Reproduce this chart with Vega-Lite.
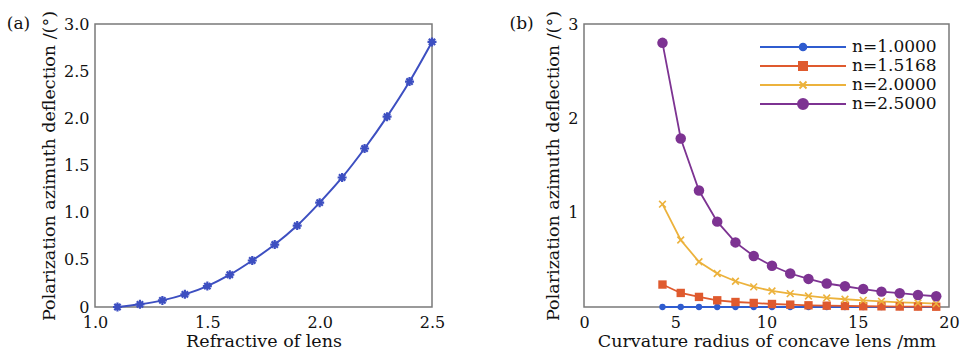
{
  "$schema": "https://vega.github.io/schema/vega-lite/v6.json",
  "padding": {"left": 6, "top": 9, "right": 0, "bottom": 0},
  "background": "white",
  "config": {
    "view": {"stroke": "#7a7a7a", "strokeWidth": 1.5},
    "axis": {
      "domain": false, "ticks": false, "grid": false,
      "labelFont": "DejaVu Serif", "labelFontSize": 16, "labelColor": "#111",
      "titleFont": "DejaVu Serif", "titleFontSize": 17.5, "titleFontWeight": "normal", "titleColor": "#111",
      "labelPadding": 6, "titlePadding": 5, "labelOverlap": false, "labelFlush": false, "labelBound": false
    },
    "axisX": {"labelPadding": 7, "titlePadding": 2},
    "title": {"font": "DejaVu Serif", "fontSize": 17, "fontWeight": "normal", "color": "#111"}
  },
  "resolve": {"scale": {"color": "independent", "shape": "independent", "stroke": "independent"},
              "legend": {"color": "independent", "shape": "independent", "stroke": "independent"}},
  "spacing": 62,
  "hconcat": [
    {
      "width": 337, "height": 283,
      "title": {"text": "(a)", "orient": "left", "anchor": "end", "frame": "group", "angle": 0, "align": "right", "baseline": "middle", "offset": -13},
      "data": {"values": [
        {"n": 1.1, "d": 0.0}, {"n": 1.2, "d": 0.028}, {"n": 1.3, "d": 0.07}, {"n": 1.4, "d": 0.134},
        {"n": 1.5, "d": 0.222}, {"n": 1.6, "d": 0.342}, {"n": 1.7, "d": 0.493}, {"n": 1.8, "d": 0.662},
        {"n": 1.9, "d": 0.863}, {"n": 2.0, "d": 1.106}, {"n": 2.1, "d": 1.373}, {"n": 2.2, "d": 1.68},
        {"n": 2.3, "d": 2.018}, {"n": 2.4, "d": 2.39}, {"n": 2.5, "d": 2.81}
      ]},
      "encoding": {
        "x": {"field": "n", "type": "quantitative", "scale": {"domain": [1.0, 2.5], "nice": false},
              "axis": {"title": "Refractive of lens", "values": [1.0, 1.5, 2.0, 2.5], "format": ".1f"}},
        "y": {"field": "d", "type": "quantitative", "scale": {"domain": [0, 3], "nice": false},
              "axis": {"title": "Polarization azimuth deflection /(°)", "values": [0, 0.5, 1, 1.5, 2, 2.5, 3],
                       "labelExpr": "datum.value === 0 ? '0' : format(datum.value, '.1f')"}}
      },
      "layer": [
        {"mark": {"type": "line", "color": "#3d4fc1", "strokeWidth": 2, "interpolate": "monotone"}},
        {"mark": {"type": "point", "filled": false, "color": "#3d4fc1", "strokeWidth": 2.2, "size": 81, "opacity": 1,
                  "shape": "M-1,0L1,0M0,-1L0,1M-0.7,-0.7L0.7,0.7M-0.7,0.7L0.7,-0.7"}}
      ]
    },
    {
      "width": 365, "height": 283,
      "title": {"text": "(b)", "orient": "left", "anchor": "end", "frame": "group", "angle": 0, "align": "right", "baseline": "middle", "offset": -13},
      "data": {"values": [
        {"r": 4.3, "d": 0.0, "s": "n=1.0000"}, {"r": 5.3, "d": 0.0, "s": "n=1.0000"}, {"r": 6.3, "d": 0.0, "s": "n=1.0000"}, {"r": 7.3, "d": 0.0, "s": "n=1.0000"},
        {"r": 8.3, "d": 0.0, "s": "n=1.0000"}, {"r": 9.3, "d": 0.0, "s": "n=1.0000"}, {"r": 10.3, "d": 0.0, "s": "n=1.0000"}, {"r": 11.3, "d": 0.0, "s": "n=1.0000"},
        {"r": 12.3, "d": 0.0, "s": "n=1.0000"}, {"r": 13.3, "d": 0.0, "s": "n=1.0000"}, {"r": 14.3, "d": 0.0, "s": "n=1.0000"}, {"r": 15.3, "d": 0.0, "s": "n=1.0000"},
        {"r": 16.3, "d": 0.0, "s": "n=1.0000"}, {"r": 17.3, "d": 0.0, "s": "n=1.0000"}, {"r": 18.3, "d": 0.0, "s": "n=1.0000"}, {"r": 19.3, "d": 0.0, "s": "n=1.0000"},
        {"r": 4.3, "d": 0.238, "s": "n=1.5168"}, {"r": 5.3, "d": 0.149, "s": "n=1.5168"}, {"r": 6.3, "d": 0.107, "s": "n=1.5168"}, {"r": 7.3, "d": 0.071, "s": "n=1.5168"},
        {"r": 8.3, "d": 0.053, "s": "n=1.5168"}, {"r": 9.3, "d": 0.043, "s": "n=1.5168"}, {"r": 10.3, "d": 0.032, "s": "n=1.5168"}, {"r": 11.3, "d": 0.025, "s": "n=1.5168"},
        {"r": 12.3, "d": 0.018, "s": "n=1.5168"}, {"r": 13.3, "d": 0.014, "s": "n=1.5168"}, {"r": 14.3, "d": 0.011, "s": "n=1.5168"}, {"r": 15.3, "d": 0.008, "s": "n=1.5168"},
        {"r": 16.3, "d": 0.007, "s": "n=1.5168"}, {"r": 17.3, "d": 0.005, "s": "n=1.5168"}, {"r": 18.3, "d": 0.004, "s": "n=1.5168"}, {"r": 19.3, "d": 0.003, "s": "n=1.5168"},
        {"r": 4.3, "d": 1.09, "s": "n=2.0000"}, {"r": 5.3, "d": 0.71, "s": "n=2.0000"}, {"r": 6.3, "d": 0.48, "s": "n=2.0000"}, {"r": 7.3, "d": 0.355, "s": "n=2.0000"},
        {"r": 8.3, "d": 0.273, "s": "n=2.0000"}, {"r": 9.3, "d": 0.213, "s": "n=2.0000"}, {"r": 10.3, "d": 0.17, "s": "n=2.0000"}, {"r": 11.3, "d": 0.142, "s": "n=2.0000"},
        {"r": 12.3, "d": 0.117, "s": "n=2.0000"}, {"r": 13.3, "d": 0.096, "s": "n=2.0000"}, {"r": 14.3, "d": 0.082, "s": "n=2.0000"}, {"r": 15.3, "d": 0.071, "s": "n=2.0000"},
        {"r": 16.3, "d": 0.06, "s": "n=2.0000"}, {"r": 17.3, "d": 0.05, "s": "n=2.0000"}, {"r": 18.3, "d": 0.043, "s": "n=2.0000"}, {"r": 19.3, "d": 0.036, "s": "n=2.0000"},
        {"r": 4.3, "d": 2.8, "s": "n=2.5000"}, {"r": 5.3, "d": 1.786, "s": "n=2.5000"}, {"r": 6.3, "d": 1.235, "s": "n=2.5000"}, {"r": 7.3, "d": 0.905, "s": "n=2.5000"},
        {"r": 8.3, "d": 0.685, "s": "n=2.5000"}, {"r": 9.3, "d": 0.54, "s": "n=2.5000"}, {"r": 10.3, "d": 0.437, "s": "n=2.5000"}, {"r": 11.3, "d": 0.355, "s": "n=2.5000"},
        {"r": 12.3, "d": 0.298, "s": "n=2.5000"}, {"r": 13.3, "d": 0.249, "s": "n=2.5000"}, {"r": 14.3, "d": 0.22, "s": "n=2.5000"}, {"r": 15.3, "d": 0.19, "s": "n=2.5000"},
        {"r": 16.3, "d": 0.163, "s": "n=2.5000"}, {"r": 17.3, "d": 0.146, "s": "n=2.5000"}, {"r": 18.3, "d": 0.128, "s": "n=2.5000"}, {"r": 19.3, "d": 0.114, "s": "n=2.5000"}
      ]},
      "encoding": {
        "x": {"field": "r", "type": "quantitative", "scale": {"domain": [0, 20], "nice": false},
              "axis": {"title": "Curvature radius of concave lens /mm", "values": [0, 5, 10, 15, 20],
                       "encode": {"labels": {"update": {"dx": {"signal": "datum.value === 0 ? -11 : 0"}}}}}},
        "y": {"field": "d", "type": "quantitative", "scale": {"domain": [0, 3], "nice": false},
              "axis": {"title": "Polarization azimuth deflection /(°)", "values": [1, 2, 3]}},
        "color": {"field": "s", "type": "nominal",
                  "scale": {"domain": ["n=1.0000", "n=1.5168", "n=2.0000", "n=2.5000"], "range": ["#2f5ccf", "#df5a2e", "#ecb23c", "#7d3392"]},
                  "legend": {"title": null, "orient": "top-right", "offset": 12, "symbolSize": 400, "symbolOffset": 30,
                             "labelOffset": 38, "labelFont": "DejaVu Serif", "labelFontSize": 17, "labelColor": "#111",
                             "rowPadding": 0, "symbolStrokeWidth": 2, "symbolOpacity": 1}}
      },
      "layer": [
        {"mark": {"type": "line", "strokeWidth": 1.8}},
        {"transform": [{"filter": "datum.s === 'n=1.0000'"}], "mark": {"type": "point", "filled": true, "shape": "circle", "size": 40, "opacity": 1}},
        {"transform": [{"filter": "datum.s === 'n=1.5168'"}], "mark": {"type": "point", "filled": true, "shape": "square", "size": 70, "opacity": 1}},
        {"transform": [{"filter": "datum.s === 'n=2.0000'"}], "mark": {"type": "point", "filled": false, "shape": "M-1,-1L1,1M-1,1L1,-1", "size": 45, "strokeWidth": 1.6, "opacity": 1}},
        {"transform": [{"filter": "datum.s === 'n=2.5000'"}], "mark": {"type": "point", "filled": true, "shape": "circle", "size": 110, "opacity": 1}},
        {"transform": [{"filter": "false"}],
         "mark": {"type": "point", "filled": true, "opacity": 1},
         "encoding": {
           "shape": {"field": "s", "type": "nominal",
                     "scale": {"domain": ["n=1.0000", "n=1.5168", "n=2.0000", "n=2.5000"],
                               "range": ["M-4.3,0L4.3,0M0.33,0A0.33,0.33,0,1,1,-0.33,0A0.33,0.33,0,1,1,0.33,0Z",
                                         "M-4.3,0L4.3,0M-0.4,-0.4L0.4,-0.4L0.4,0.4L-0.4,0.4Z",
                                         "M-4.3,0L4.3,0M-0.35,-0.35L0.35,0.35M-0.35,0.35L0.35,-0.35",
                                         "M-4.3,0L4.3,0M0.5,0A0.5,0.5,0,1,1,-0.5,0A0.5,0.5,0,1,1,0.5,0Z"]}},
           "stroke": {"field": "s", "type": "nominal",
                      "scale": {"domain": ["n=1.0000", "n=1.5168", "n=2.0000", "n=2.5000"], "range": ["#2f5ccf", "#df5a2e", "#ecb23c", "#7d3392"]}}
         }}
      ]
    }
  ]
}
